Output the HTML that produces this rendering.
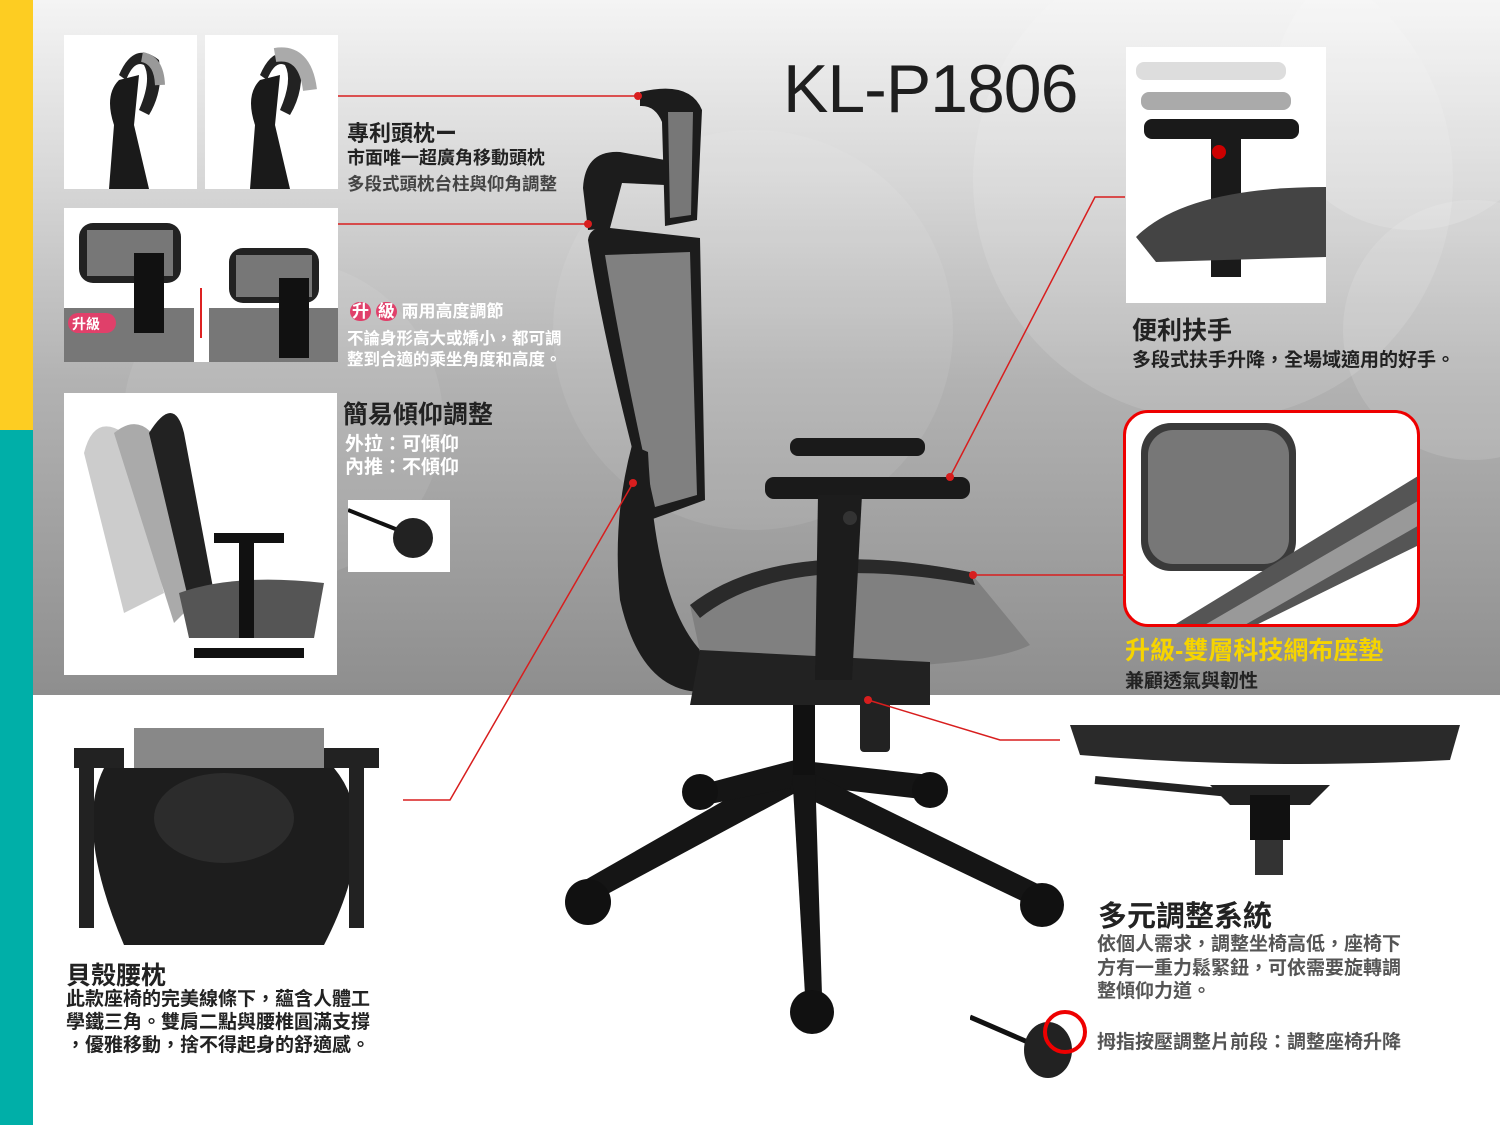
<!DOCTYPE html>
<html><head><meta charset="utf-8"><style>
*{margin:0;padding:0;box-sizing:border-box}
body{width:1500px;height:1125px;position:relative;overflow:hidden;background:#fff;font-family:"Liberation Sans","Noto Sans CJK TC",sans-serif}
.a{position:absolute}
.t{position:absolute;white-space:nowrap;font-weight:bold}
.ph{position:absolute;background:#fff;overflow:hidden}
</style></head><body>
<div class="a" style="left:33px;top:0;width:1467px;height:695px;background:linear-gradient(#f4f4f4 0%,#d8d8d8 25%,#b2b2b2 55%,#8e8e8e 100%)"></div>
<svg class="a" style="left:33px;top:0" width="1467" height="695">
<circle cx="1180" cy="180" r="240" fill="#fff" opacity="0.12"/>
<circle cx="1380" cy="90" r="140" fill="#fff" opacity="0.15"/>
<circle cx="250" cy="420" r="160" fill="#fff" opacity="0.08"/>
<circle cx="720" cy="330" r="200" fill="#fff" opacity="0.08"/>
<circle cx="1440" cy="330" r="130" fill="#fff" opacity="0.12"/>
</svg>
<div class="a" style="left:0;top:0;width:33px;height:430px;background:#fdcd22"></div>
<div class="a" style="left:0;top:430px;width:33px;height:695px;background:#00afa8"></div>

<!-- photos -->
<div class="ph" style="left:64px;top:35px;width:133px;height:154px"><svg width="133" height="154"><path d="M45 154 L50 90 Q40 60 55 45 L75 40 L70 90 L85 154Z" fill="#1a1a1a"/><path d="M55 40 Q70 5 95 25 Q100 55 85 80 L75 75 Q88 45 80 30 Q70 25 62 45Z" fill="#222"/><path d="M78 22 Q95 25 96 50" stroke="#999" stroke-width="10" fill="none"/></svg></div>
<div class="ph" style="left:205px;top:35px;width:133px;height:154px"><svg width="133" height="154"><path d="M45 154 L50 90 Q40 60 55 45 L75 40 L70 90 L85 154Z" fill="#1a1a1a"/><path d="M55 40 Q70 5 95 25 Q100 55 85 80 L75 75 Q88 45 80 30 Q70 25 62 45Z" fill="#222"/><path d="M70 20 Q100 15 105 55" stroke="#aaa" stroke-width="14" fill="none"/></svg></div>
<div class="ph" style="left:64px;top:208px;width:274px;height:154px"><svg width="274" height="154"><rect x="15" y="15" width="102" height="60" rx="14" fill="#222"/><rect x="23" y="22" width="86" height="46" fill="#777"/><rect x="0" y="100" width="130" height="54" fill="#777"/><rect x="70" y="45" width="30" height="80" fill="#111"/><rect x="165" y="40" width="90" height="55" rx="14" fill="#222"/><rect x="172" y="47" width="76" height="42" fill="#777"/><rect x="145" y="100" width="129" height="54" fill="#777"/><rect x="215" y="70" width="30" height="80" fill="#111"/><line x1="137" y1="80" x2="137" y2="130" stroke="#d22" stroke-width="2"/><rect x="4" y="105" width="48" height="20" rx="10" fill="#e0406a"/><text x="8" y="121" font-size="14" fill="#fff" font-weight="bold">升級</text></svg></div>
<div class="ph" style="left:64px;top:393px;width:273px;height:282px"><svg width="273" height="282"><path d="M20 60 Q30 20 60 40 L100 200 L60 220Z" fill="#ccc"/><path d="M50 40 Q80 15 100 60 L130 210 L110 230Z" fill="#aaa"/><path d="M85 40 Q110 0 120 40 L150 200 L130 230Z" fill="#222"/><path d="M115 200 Q170 180 260 190 L250 245 L125 245Z" fill="#555"/><rect x="150" y="140" width="70" height="10" fill="#111"/><rect x="175" y="145" width="15" height="100" fill="#111"/><rect x="130" y="255" width="110" height="10" fill="#111"/></svg></div>
<div class="ph" style="left:348px;top:500px;width:102px;height:72px"><svg width="102" height="72"><line x1="0" y1="10" x2="50" y2="30" stroke="#111" stroke-width="4"/><ellipse cx="65" cy="38" rx="20" ry="20" fill="#222"/></svg></div>
<div class="ph" style="left:1126px;top:47px;width:200px;height:256px"><svg width="200" height="256"><rect x="10" y="15" width="150" height="18" rx="8" fill="#ddd"/><rect x="15" y="45" width="150" height="18" rx="8" fill="#aaa"/><rect x="18" y="72" width="155" height="20" rx="8" fill="#1a1a1a"/><rect x="85" y="85" width="30" height="145" fill="#1a1a1a"/><path d="M10 190 Q60 140 200 140 L200 210 L30 215Z" fill="#444"/><circle cx="93" cy="105" r="7" fill="#c00"/></svg></div>
<div class="a" style="left:1123px;top:410px;width:297px;height:217px;border:3px solid #e00;border-radius:25px;background:#fff;overflow:hidden"><svg width="297" height="217"><rect x="15" y="10" width="155" height="148" rx="30" fill="#3a3a3a"/><rect x="22" y="17" width="141" height="134" rx="25" fill="#777"/><path d="M40 217 L297 60 L297 130 L120 217Z" fill="#555"/><path d="M70 217 L297 85 L297 110 L110 217Z" fill="#999"/></svg></div>
<div class="ph" style="left:1060px;top:725px;width:400px;height:155px"><svg width="400" height="155"><path d="M10 0 L400 0 L390 35 Q200 45 20 30Z" fill="#2a2a2a"/><path d="M150 60 L270 60 L250 80 L170 80Z" fill="#222"/><line x1="35" y1="55" x2="170" y2="68" stroke="#222" stroke-width="8"/><rect x="190" y="70" width="40" height="45" fill="#111"/><rect x="195" y="115" width="28" height="35" fill="#333"/></svg></div>
<div class="ph" style="left:64px;top:728px;width:316px;height:217px"><svg width="316" height="217"><rect x="70" y="0" width="190" height="60" fill="#888"/><path d="M40 40 L270 40 Q320 100 260 217 L60 217 Q10 100 40 40Z" fill="#1d1d1d"/><ellipse cx="160" cy="90" rx="70" ry="45" fill="#2c2c2c"/><rect x="10" y="20" width="50" height="20" fill="#222"/><rect x="260" y="20" width="55" height="20" fill="#222"/><rect x="15" y="40" width="15" height="160" fill="#222"/><rect x="285" y="40" width="15" height="160" fill="#222"/></svg></div>
<div class="ph" style="left:970px;top:1005px;width:120px;height:85px"><svg width="120" height="85"><line x1="0" y1="12" x2="60" y2="38" stroke="#111" stroke-width="5"/><ellipse cx="78" cy="45" rx="24" ry="28" fill="#222"/><circle cx="95" cy="27" r="20" fill="none" stroke="#e00" stroke-width="4"/></svg></div>

<!-- chair -->
<svg class="a" style="left:0;top:0" width="1500" height="1125">
<!-- base -->
<g fill="#151515">
<path d="M795 760 L585 880 L600 898 L810 785Z"/>
<path d="M795 760 L700 785 L705 805 L805 785Z"/>
<path d="M795 760 L930 775 L930 800 L800 785Z"/>
<path d="M795 765 L1040 885 L1030 905 L790 790Z"/>
<path d="M792 770 L805 995 L822 995 L815 770Z"/>
</g>
<circle cx="588" cy="902" r="23" fill="#111"/><circle cx="1042" cy="905" r="22" fill="#111"/>
<circle cx="812" cy="1012" r="22" fill="#111"/><circle cx="700" cy="792" r="18" fill="#111"/><circle cx="930" cy="790" r="18" fill="#111"/>
<rect x="793" y="700" width="22" height="75" fill="#111"/>
<rect x="860" y="700" width="30" height="52" rx="4" fill="#222"/>
<!-- headrest -->
<path d="M640 92 Q690 80 702 110 L697 220 L665 226 L662 122 Q655 105 640 106Z" fill="#1c1c1c"/>
<path d="M668 112 L693 112 L691 215 L670 218Z" fill="#777"/>
<path d="M583 188 Q585 150 620 152 L665 160 L665 185 L622 183 L610 228 L588 230Z" fill="#1c1c1c"/>
<!-- back -->
<path d="M588 240 Q590 225 610 228 L700 238 L705 500 L650 520 L630 440 Q600 320 588 240Z" fill="#1c1c1c"/>
<path d="M605 255 L690 252 L697 495 L655 507 Q622 360 605 255Z" fill="#808080"/>
<path d="M632 445 Q612 520 620 600 Q640 690 700 692 L840 692 L830 640 L700 650 Q655 600 648 452Z" fill="#1c1c1c"/>
<!-- seat -->
<path d="M690 605 Q780 535 970 572 L1030 645 Q1000 660 920 665 L700 652Z" fill="#808080"/>
<path d="M690 605 Q780 535 970 572 L975 585 Q785 550 700 618Z" fill="#2a2a2a"/>
<path d="M700 650 L930 662 L930 705 L690 705Z" fill="#222"/>
<!-- arms -->
<rect x="790" y="438" width="135" height="18" rx="8" fill="#1a1a1a"/>
<rect x="765" y="477" width="205" height="22" rx="9" fill="#1a1a1a"/>
<path d="M818 495 L862 495 L852 680 L815 680Z" fill="#1c1c1c"/>
<circle cx="850" cy="518" r="7" fill="#333"/>
<!-- red lines -->
<g stroke="#d81e1e" stroke-width="1.5" fill="none">
<path d="M338 96 L638 96"/><path d="M338 224 L588 224"/><path d="M403 800 L450 800 L633 483"/><path d="M1060 740 L1000 740 L868 700"/><path d="M1125 575 L973 575"/><path d="M1125 197 L1095 197 L950 477"/>
</g>
<g fill="#d81e1e"><circle cx="638" cy="96" r="4"/><circle cx="588" cy="224" r="4"/><circle cx="633" cy="483" r="4"/><circle cx="868" cy="700" r="4"/><circle cx="973" cy="575" r="4"/><circle cx="950" cy="477" r="4"/></g>
</svg>

<div class="t" style="left:783px;top:50px;font-size:68px;font-weight:normal;color:#1e1e1e;letter-spacing:-1px">KL-P1806</div>
<div class="t" style="left:347px;top:116px;font-size:22px;color:#222">專利頭枕ー</div>
<div class="t" style="left:347px;top:144px;font-size:18px;color:#222">市面唯一超廣角移動頭枕</div>
<div class="t" style="left:347px;top:171px;font-size:17.5px;color:#444">多段式頭枕台柱與仰角調整</div>
<div class="t" style="left:350px;top:297px;font-size:17px;color:#fff"><span style="background:#e0406a;border-radius:10px;padding:0 2px">升</span> <span style="background:#e0406a;border-radius:10px;padding:0 2px">級</span> 兩用高度調節</div>
<div class="t" style="left:347px;top:325px;font-size:16.5px;color:#fff">不論身形高大或嬌小，都可調</div>
<div class="t" style="left:347px;top:346px;font-size:16.5px;color:#fff">整到合適的乘坐角度和高度。</div>
<div class="t" style="left:343px;top:395px;font-size:25px;color:#222">簡易傾仰調整</div>
<div class="t" style="left:345px;top:429px;font-size:19px;color:#fff">外拉：可傾仰</div>
<div class="t" style="left:345px;top:452px;font-size:19px;color:#fff">內推：不傾仰</div>
<div class="t" style="left:1132px;top:311px;font-size:25px;color:#222">便利扶手</div>
<div class="t" style="left:1132px;top:345px;font-size:19px;color:#222">多段式扶手升降，全場域適用的好手。</div>
<div class="t" style="left:1125px;top:631px;font-size:25px;color:#f6d400">升級-雙層科技網布座墊</div>
<div class="t" style="left:1125px;top:666px;font-size:19px;color:#222">兼顧透氣與韌性</div>
<div class="t" style="left:1098px;top:893px;font-size:29px;color:#222">多元調整系統</div>
<div class="t" style="left:1097px;top:933px;font-size:19px;color:#555;line-height:23.5px">依個人需求，調整坐椅高低，座椅下<br>方有一重力鬆緊鈕，可依需要旋轉調<br>整傾仰力道。</div>
<div class="t" style="left:1097px;top:1027px;font-size:19px;color:#555">拇指按壓調整片前段：調整座椅升降</div>
<div class="t" style="left:66px;top:956px;font-size:25px;color:#222">貝殼腰枕</div>
<div class="t" style="left:66px;top:988px;font-size:19px;color:#222;line-height:23px">此款座椅的完美線條下，蘊含人體工<br>學鐵三角。雙肩二點與腰椎圓滿支撐<br>，優雅移動，捨不得起身的舒適感。</div>
</body></html>
